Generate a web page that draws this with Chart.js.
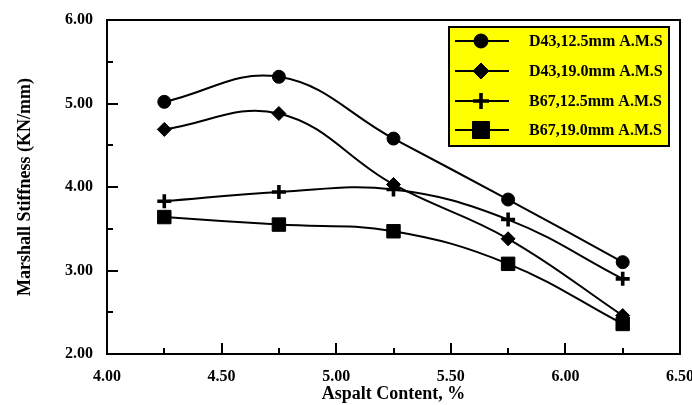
<!DOCTYPE html>
<html><head><meta charset="utf-8">
<script src="https://cdn.jsdelivr.net/npm/chart.js@4/dist/chart.umd.min.js"></script>
<style>html,body{margin:0;padding:0;background:#fff}#wrap{width:692px;height:405px}</style>
</head><body><div id="wrap"><canvas id="c" width="692" height="405"></canvas></div>
<script>
const asphaltContent = [4.25, 4.75, 5.25, 5.75, 6.25];
const d43_125 = [5.02, 5.32, 4.58, 3.85, 3.10];
const d43_190 = [4.69, 4.88, 4.03, 3.38, 2.46];
const b67_125 = [3.83, 3.94, 3.97, 3.61, 2.90];
const b67_190 = [3.64, 3.55, 3.47, 3.08, 2.36];
const seriesNames = ["D43,12.5mm A.M.S", "D43,19.0mm A.M.S", "B67,12.5mm A.M.S", "B67,19.0mm A.M.S"];
const xTickLabels = ["4.00", "4.50", "5.00", "5.50", "6.00", "6.50"];
const yTickLabels = ["2.00", "3.00", "4.00", "5.00", "6.00"];

const FONT = "'Liberation Serif','Times New Roman',serif";
const styles = [
  {pointStyle:'circle', pointRadius:6.5, pointBorderWidth:1, legendRadius:7},
  {pointStyle:'rectRot', pointRadius:7, pointBorderWidth:1, legendRadius:8},
  {pointStyle:'cross', pointRadius:7, pointBorderWidth:3.6, legendRadius:8},
  {pointStyle:'rect', pointRadius:9.5, pointBorderWidth:1, legendRadius:12}
];
const allData = [d43_125, d43_190, b67_125, b67_190];
const datasets = allData.map((vals, i) => ({
  label: seriesNames[i],
  data: vals.map((v, j) => ({x: asphaltContent[j], y: v})),
  borderColor: '#000', backgroundColor: '#000',
  borderWidth: 2, tension: 0.4,
  pointStyle: styles[i].pointStyle, pointRadius: styles[i].pointRadius,
  pointBorderWidth: styles[i].pointBorderWidth,
  pointBackgroundColor: '#000', pointBorderColor: '#000'
}));

const framePlugin = {
  id: 'frame',
  afterDatasetsDraw(chart) {
    const ctx = chart.ctx, a = chart.chartArea;
    const xs = chart.scales.x, ys = chart.scales.y;
    ctx.save();
    ctx.strokeStyle = '#000';
    ctx.lineWidth = 2;
    ctx.strokeRect(a.left, a.top, a.right - a.left, a.bottom - a.top);
    ctx.beginPath();
    for (let v = 4.0; v <= 6.5001; v += 0.25) {
      const px = Math.round(xs.getPixelForValue(v));
      const major = Math.abs(v * 2 - Math.round(v * 2)) < 1e-6;
      const len = major ? 11 : 6;
      ctx.moveTo(px, a.bottom); ctx.lineTo(px, a.bottom - len);
    }
    for (let v = 2.0; v <= 6.0001; v += 0.5) {
      const py = Math.round(ys.getPixelForValue(v));
      const major = Math.abs(v - Math.round(v)) < 1e-6;
      const len = major ? 11 : 6;
      ctx.moveTo(a.left, py); ctx.lineTo(a.left + len, py);
    }
    ctx.stroke();
    ctx.restore();
  },
  afterDraw(chart) {
    const ctx = chart.ctx;
    const L = 449, T = 27, W = 220, H = 119;
    ctx.save();
    ctx.fillStyle = '#ffff00';
    ctx.fillRect(L, T, W, H);
    ctx.strokeStyle = '#000';
    ctx.lineWidth = 2;
    ctx.strokeRect(L, T, W, H);
    const rows = [41, 71, 101, 130];
    ctx.font = "bold 16px " + FONT;
    ctx.textBaseline = 'middle';
    ctx.textAlign = 'left';
    rows.forEach((y, i) => {
      ctx.strokeStyle = '#000';
      ctx.lineWidth = 2;
      ctx.beginPath(); ctx.moveTo(455, y); ctx.lineTo(509, y); ctx.stroke();
      ctx.fillStyle = '#000';
      ctx.lineWidth = styles[i].pointBorderWidth;
      Chart.helpers.drawPoint(ctx, {pointStyle: styles[i].pointStyle, radius: styles[i].legendRadius, rotation: 0, borderWidth: styles[i].pointBorderWidth}, 481, y);
      ctx.fillStyle = '#000';
      ctx.fillText(seriesNames[i], 529, y + 1);
    });
    ctx.restore();
  }
};

new Chart(document.getElementById('c'), {
  type: 'line',
  data: { datasets },
  options: {
    responsive: false, animation: false,
    devicePixelRatio: 1,
    layout: { padding: { left: 0, right: 12, top: 20, bottom: 0 } },
    plugins: { legend: { display: false }, tooltip: { enabled: false } },
    scales: {
      x: {
        type: 'linear', min: 4.0, max: 6.5,
        afterFit(s) { s.height = 51; s.paddingLeft = 0; s.paddingRight = 0; },
        grid: { display: false, drawTicks: false },
        border: { display: false },
        afterBuildTicks(s) { s.ticks = xTickLabels.map(t => ({value: parseFloat(t)})); },
        ticks: {
          color: '#000', padding: 13, maxRotation: 0,
          font: { family: FONT, size: 16, weight: 'bold' },
          callback: (v) => xTickLabels.find(t => Math.abs(parseFloat(t) - v) < 1e-6) || ''
        },
        title: { display: true, text: 'Aspalt Content, %', color: '#000',
          font: { family: FONT, size: 18, weight: 'bold' }, padding: { top: 0, bottom: 0 } }
      },
      y: {
        type: 'linear', min: 2.0, max: 6.0,
        afterFit(s) { s.width = 107; s.paddingTop = 0; s.paddingBottom = 0; },
        grid: { display: false, drawTicks: false },
        border: { display: false },
        afterBuildTicks(s) { s.ticks = yTickLabels.map(t => ({value: parseFloat(t)})); },
        ticks: {
          color: '#000', padding: 14,
          font: { family: FONT, size: 16, weight: 'bold' },
          callback: (v) => yTickLabels.find(t => Math.abs(parseFloat(t) - v) < 1e-6) || ''
        },
        title: { display: true, text: 'Marshall Stiffness (KN/mm)', color: '#000',
          font: { family: FONT, size: 18, weight: 'bold' }, padding: { top: 15, bottom: 0 } }
      }
    }
  },
  plugins: [framePlugin]
});
</script></body></html>
